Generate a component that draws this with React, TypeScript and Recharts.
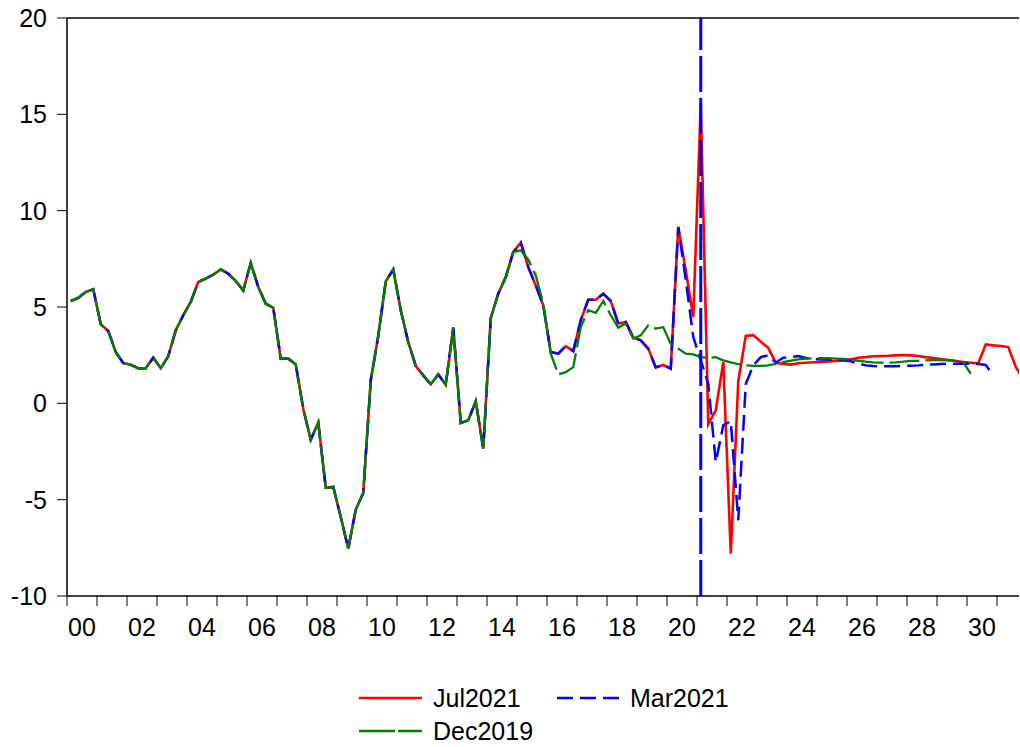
import React from 'react';
import { LineChart, Line, XAxis, YAxis, ReferenceLine } from 'recharts';

// ---- data (quarterly, starting 2000Q1) ----
const START_YEAR = 2000;

// history shared by all three vintages, 2000Q1 .. 2014Q4
const sharedHistory: number[] = [
  5.31, 5.47, 5.78, 5.92, 4.1, 3.75, 2.66, 2.09, 2.0, 1.82,
  1.82, 2.37, 1.82, 2.44, 3.79, 4.57, 5.26, 6.3, 6.47, 6.68,
  6.95, 6.73, 6.35, 5.86, 7.28, 6.04, 5.17, 4.96, 2.32, 2.32,
  2.02, -0.28, -1.89, -1.0, -4.39, -4.34, -5.9, -7.54, -5.52, -4.65,
  1.19, 3.5, 6.33, 6.95, 4.83, 3.18, 1.94, 1.45, 0.99, 1.5,
  0.97, 3.93, -1.02, -0.88, 0.1, -2.35, 4.43, 5.69, 6.55, 7.85,
];

// from 2015Q1 onward
const jul2021: number[] = [
  8.34, 7.07, 6.12, 5.09, 2.66, 2.58, 2.97, 2.71, 4.31, 5.38,
  5.38, 5.69, 5.31, 4.14, 4.22, 3.41, 3.27, 2.84, 1.86, 1.99,
  1.8, 9.15, 6.9, 4.48, 15.55, -1.08, -0.36, 2.14, -7.8, 1.16,
  3.5, 3.54, 3.2, 2.88, 2.1, 2.05, 2.01, 2.08, 2.11, 2.13,
  2.14, 2.18, 2.2, 2.23, 2.28, 2.37, 2.4, 2.44, 2.46, 2.47,
  2.49, 2.51, 2.49, 2.46, 2.4, 2.35, 2.3, 2.25, 2.2, 2.14,
  2.11, 2.08, 3.06, 3.01, 2.98, 2.92, 1.89, 1.25,
];

const mar2021: number[] = [
  8.34, 7.07, 6.12, 5.09, 2.66, 2.58, 2.97, 2.71, 4.31, 5.38,
  5.38, 5.69, 5.31, 4.14, 4.22, 3.41, 3.27, 2.84, 1.86, 1.99,
  1.8, 9.15, 6.4, 3.44, 2.23, 1.02, -3.05, -1.14, -0.92, -6.07,
  1.0, 1.97, 2.4, 2.49, 2.12, 2.37, 2.4, 2.45, 2.35, 2.3,
  2.28, 2.27, 2.25, 2.23, 2.18, 2.06, 1.97, 1.94, 1.92, 1.92,
  1.92, 1.94, 1.95, 1.97, 2.01, 2.02, 2.04, 2.06, 2.06, 2.06,
  2.06, 2.04, 1.99, 1.45,
];

const dec2019: number[] = [
  7.94, 7.46, 6.64, 5.17, 2.58, 1.5, 1.62, 1.88, 3.96, 4.83,
  4.69, 5.31, 4.57, 3.93, 4.14, 3.36, 3.53, 4.05, 3.88, 3.95,
  3.1, 2.84, 2.58, 2.54, 2.4, 2.35, 2.4, 2.23, 2.13, 2.04,
  1.97, 1.94, 1.94, 1.97, 2.05, 2.14, 2.22, 2.28, 2.32, 2.34,
  2.34, 2.34, 2.32, 2.3, 2.27, 2.21, 2.16, 2.13, 2.11, 2.11,
  2.13, 2.16, 2.2, 2.21, 2.23, 2.25, 2.25, 2.23, 2.21, 2.13,
  1.54,
];

const yTicks: number[] = [-10, -5, 0, 5, 10, 15, 20];
const tickYears: number[] = [
  2000, 2001, 2002, 2003, 2004, 2005, 2006, 2007, 2008, 2009, 2010,
  2011, 2012, 2013, 2014, 2015, 2016, 2017, 2018, 2019, 2020, 2021,
  2022, 2023, 2024, 2025, 2026, 2027, 2028, 2029, 2030, 2031,
];
const yearLabels: Record<number, string> = {
  2000: '00', 2002: '02', 2004: '04', 2006: '06', 2008: '08', 2010: '10',
  2012: '12', 2014: '14', 2016: '16', 2018: '18', 2020: '20', 2022: '22',
  2024: '24', 2026: '26', 2028: '28', 2030: '30',
};
const forecastMarkYear = 2021; // Mar2021 -> 2021Q1
const forecastMarkQuarter = 1;
const X_END = 126.93; // quarters shown from 2000Q1 start

// ---- build table ----
const julAll = [...sharedHistory, ...jul2021];
const marAll = [...sharedHistory, ...mar2021];
const decAll = [...sharedHistory, ...dec2019];
const n = Math.max(julAll.length, marAll.length, decAll.length);
const rows = Array.from({ length: n }, (_, i) => ({
  x: i + 0.5,
  jul: julAll[i],
  mar: marAll[i],
  dec: decAll[i],
}));
const xTicks = tickYears.map((y) => (y - START_YEAR) * 4);
const markX = (forecastMarkYear - START_YEAR) * 4 + (forecastMarkQuarter - 1) + 0.5;

const FONT = '"Liberation Sans", Arial, Helvetica, sans-serif';
const RED = '#FF0000';
const BLUE = '#0000FF';
const GREEN = '#008000';
const BLUE_DASH = '16 7';
const GREEN_DASH = '30 6';

const XTick = (props: any) => {
  const { x, y, payload } = props;
  const year = START_YEAR + Math.round(payload.value / 4);
  const label = yearLabels[year];
  if (!label) return <g />;
  return (
    <text x={x + 15} y={y} dy="0.71em" textAnchor="middle" fontSize={25} fill="#000" fontFamily={FONT}>
      {label}
    </text>
  );
};

const LegendBox = () => (
  <svg width={1020} height={90} style={{ position: 'absolute', left: 0, top: 657 }}>
    <g fontFamily={FONT} fontSize={25} fill="#000">
      <line x1={359} x2={422} y1={41} y2={41} stroke={RED} strokeWidth={2.6} />
      <text x={433} y={50}>Jul2021</text>
      <line x1={557} x2={619} y1={41} y2={41} stroke={BLUE} strokeWidth={2.6} strokeDasharray={BLUE_DASH} />
      <text x={630} y={50}>Mar2021</text>
      <line x1={359} x2={422} y1={74} y2={74} stroke={GREEN} strokeWidth={2.6} strokeDasharray="36 3" />
      <text x={433} y={83}>Dec2019</text>
    </g>
  </svg>
);

export default function App() {
  return (
    <div style={{ position: 'absolute', left: 0, top: 0, width: 1020, height: 747, background: '#fff' }}>
      <LineChart
        width={1020}
        height={747}
        data={rows}
        margin={{ top: 18, right: 1, bottom: 101, left: 0 }}
      >
        <XAxis
          type="number"
          dataKey="x"
          domain={[0, X_END]}
          allowDataOverflow
          ticks={xTicks}
          interval={0}
          tick={<XTick />}
          tickSize={10}
          tickMargin={12}
          height={50}
          axisLine={{ stroke: '#000', strokeWidth: 1.5 }}
          tickLine={{ stroke: '#000', strokeWidth: 1 }}
        />
        <YAxis
          type="number"
          domain={[-10, 20]}
          ticks={yTicks}
          interval={0}
          width={67}
          tickSize={10}
          tickMargin={10}
          tick={{ fontSize: 25, fill: '#000', fontFamily: FONT }}
          axisLine={{ stroke: '#000', strokeWidth: 1.5 }}
          tickLine={{ stroke: '#000', strokeWidth: 1 }}
        />
        <ReferenceLine y={20} stroke="#000" strokeWidth={1.5} />
        <Line
          type="linear"
          dataKey="jul"
          stroke={RED}
          strokeWidth={2.6}
          dot={false}
          isAnimationActive={false}
        />
        <Line
          type="linear"
          dataKey="mar"
          stroke={BLUE}
          strokeWidth={2.5}
          strokeDasharray={BLUE_DASH}
          dot={false}
          isAnimationActive={false}
        />
        <Line
          type="linear"
          dataKey="dec"
          stroke={GREEN}
          strokeWidth={2.3}
          strokeDasharray={GREEN_DASH}
          dot={false}
          isAnimationActive={false}
        />
        <ReferenceLine x={markX} stroke={BLUE} strokeWidth={3} strokeDasharray="36 6" />
      </LineChart>
      <LegendBox />
    </div>
  );
}
